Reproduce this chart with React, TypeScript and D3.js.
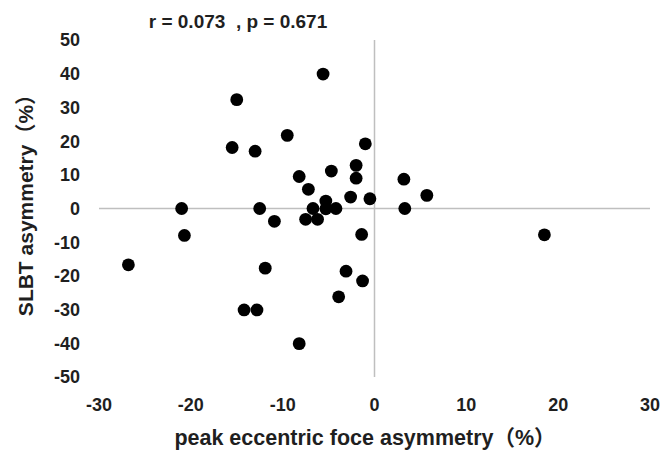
import React from 'react';
import * as d3 from 'd3';

// peak eccentric force asymmetry (%)
const xValues = [
  -5.6, -15.0, -9.5, -1.0, -15.5, -13.0, -2.0, -4.7, -8.2, -2.0, 3.2, -7.2,
  5.7, -2.6, -0.5, -5.3, -21.0, -12.5, -6.7, -5.3, -4.2, 3.3, -10.9, -7.5,
  -6.2, -20.7, -1.4, -11.9, -3.1, -1.3, -3.9, -14.2, -12.8, -8.2, -26.8, 18.5,
];
// SLBT asymmetry (%)
const yValues = [
  39.9, 32.3, 21.7, 19.2, 18.1, 17.0, 12.8, 11.1, 9.5, 9.0, 8.7, 5.7,
  3.9, 3.4, 2.9, 2.2, 0.0, 0.0, 0.0, -0.1, 0.0, 0.0, -3.8, -3.2,
  -3.2, -8.0, -7.7, -17.7, -18.6, -21.5, -26.2, -30.1, -30.1, -40.1, -16.7, -7.8,
];
const xTicks = [-30, -20, -10, 0, 10, 20, 30];
const yTicks = [50, 40, 30, 20, 10, 0, -10, -20, -30, -40, -50];

const W = 663;
const H = 451;
const font = '"Liberation Sans", Arial, "Noto Sans CJK JP", sans-serif';
const textColor = '#1f1f1f';

export default function App() {
  const x = d3.scaleLinear().domain([-30, 30]).range([99, 650]);
  const y = d3.scaleLinear().domain([-50, 50]).range([377, 40]);
  const points = xValues.map((v, i) => ({ x: v, y: yValues[i] }));

  return (
    <svg
      width={W}
      height={H}
      style={{ position: 'absolute', left: 0, top: 0, background: '#fff' }}
    >
      {/* zero lines */}
      <line x1={x(-30)} x2={x(30)} y1={y(0)} y2={y(0)} stroke="#bfbfbf" strokeWidth={1.5} />
      <line x1={x(0)} x2={x(0)} y1={y(50)} y2={y(-50)} stroke="#bfbfbf" strokeWidth={1.5} />

      {/* y tick labels */}
      {yTicks.map(t => (
        <text
          key={'y' + t}
          x={80}
          y={y(t)}
          dy="0.36em"
          textAnchor="end"
          fontFamily={font}
          fontWeight="bold"
          fontSize={18}
          fill={textColor}
        >
          {t}
        </text>
      ))}

      {/* x tick labels */}
      {xTicks.map(t => (
        <text
          key={'x' + t}
          x={x(t)}
          y={405}
          dy="0.36em"
          textAnchor="middle"
          fontFamily={font}
          fontWeight="bold"
          fontSize={18}
          fill={textColor}
        >
          {t}
        </text>
      ))}

      {/* points */}
      {points.map((d, i) => (
        <circle key={i} cx={x(d.x)} cy={y(d.y)} r={6.4} fill="#000" />
      ))}

      {/* title */}
      <text
        x={238}
        y={21}
        dy="0.36em"
        textAnchor="middle"
        fontFamily={font}
        fontWeight="bold"
        fontSize={19}
        fill={textColor}
        style={{ whiteSpace: 'pre' }}
      >
        {'r = 0.073  , p = 0.671'}
      </text>

      {/* axis titles */}
      <text
        x={365}
        y={437}
        dy="0.36em"
        textAnchor="middle"
        fontFamily={font}
        fontWeight="bold"
        fontSize={21.5}
        fill={textColor}
      >
        peak eccentric foce asymmetry（%）
      </text>
      <text
        transform={`translate(25, ${200}) rotate(-90)`}
        dy="0.36em"
        textAnchor="middle"
        fontFamily={font}
        fontWeight="bold"
        fontSize={21}
        fill={textColor}
      >
        SLBT asymmetry（%）
      </text>
    </svg>
  );
}
